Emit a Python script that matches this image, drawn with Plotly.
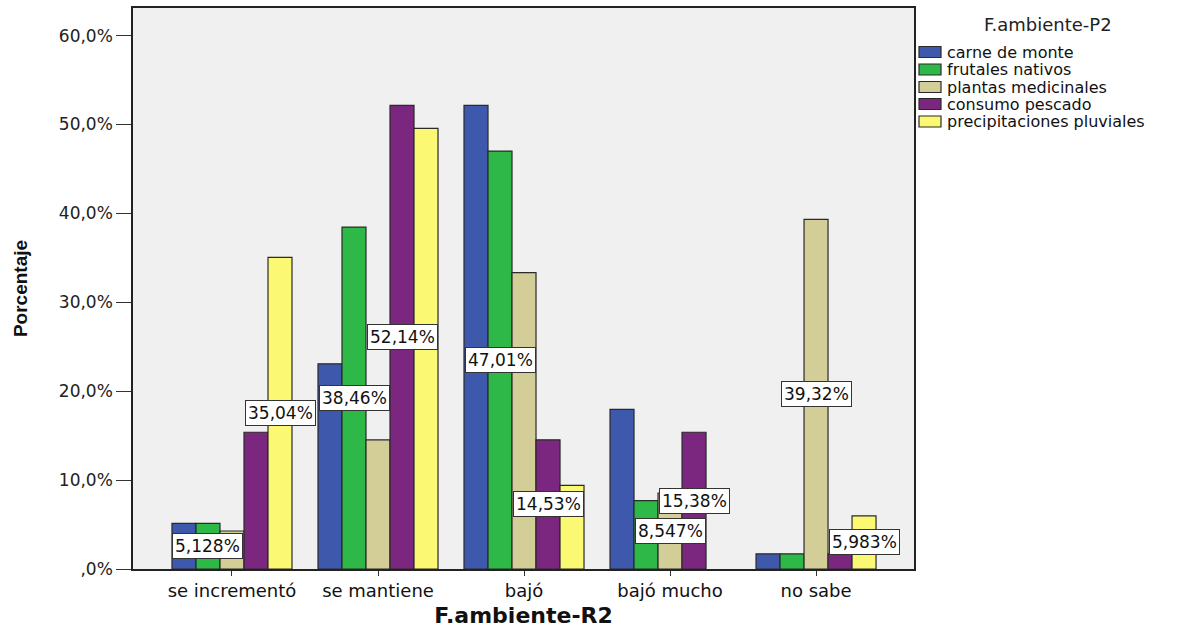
import plotly.graph_objects as go

# Categories on the horizontal axis (F.ambiente-R2)
categories = ["se incrementó", "se mantiene", "bajó", "bajó mucho", "no sabe"]

# Percentage of respondents per answer, one list per F.ambiente-P2 item
series_names = [
    "carne de monte",
    "frutales nativos",
    "plantas medicinales",
    "consumo pescado",
    "precipitaciones pluviales",
]
carne_de_monte = [5.128, 23.08, 52.14, 17.95, 1.709]
frutales_nativos = [5.128, 38.46, 47.01, 7.692, 1.709]
plantas_medicinales = [4.274, 14.53, 33.33, 8.547, 39.32]
consumo_pescado = [15.38, 52.14, 14.53, 15.38, 1.709]
precipitaciones_pluviales = [35.04, 49.57, 9.402, None, 5.983]
series_values = [
    carne_de_monte,
    frutales_nativos,
    plantas_medicinales,
    consumo_pescado,
    precipitaciones_pluviales,
]
series_colors = ["#3e58ac", "#2eb848", "#d3ce97", "#7b277f", "#fbf873"]

# Bars that carry a boxed value label: (category index, series index)
label_categories = [0, 0, 1, 1, 2, 2, 3, 3, 4, 4]
label_series = [1, 4, 1, 3, 1, 3, 3, 2, 2, 4]

# Y axis ticks
y_tick_values = [0, 10, 20, 30, 40, 50, 60]
y_tick_text = [",0%", "10,0%", "20,0%", "30,0%", "40,0%", "50,0%", "60,0%"]

W, H = 1190, 628
M_L, M_R, M_T, M_B = 133, 276, 8, 59
BARGAP = 0.178
FONT = "DejaVu Sans, Verdana, sans-serif"
EDGE = "#2a2a2a"


def px_x(px):
    """Pixel column -> paper x."""
    return (px - M_L) / (W - M_L - M_R)


def px_y(py):
    """Pixel row -> paper y."""
    return (H - M_B - py) / (H - M_T - M_B)


fig = go.Figure()
for name, vals, color in zip(series_names, series_values, series_colors):
    fig.add_trace(
        go.Bar(
            name=name,
            x=categories,
            y=vals,
            marker=dict(color=color, line=dict(color=EDGE, width=1.2)),
            hoverinfo="skip",
            showlegend=False,
        )
    )

# Boxed labels sit at mid-height of their bar, centred on it
n_series = len(series_names)
bar_w = (1 - BARGAP) / n_series
for ci, si in zip(label_categories, label_series):
    v = series_values[si][ci]
    txt = f"{v:.4g}".replace(".", ",") + "%"
    fig.add_annotation(
        x=ci + (si - (n_series - 1) / 2) * bar_w,
        y=v / 2,
        xref="x",
        yref="y",
        text=txt,
        showarrow=False,
        font=dict(family=FONT, size=17, color="#111111"),
        bgcolor="#ffffff",
        bordercolor="#333333",
        borderwidth=1,
        borderpad=2,
    )

# Legend block to the right of the plot: title, swatches and names
fig.add_annotation(
    x=px_x(1048), y=px_y(25), xref="paper", yref="paper",
    text="F.ambiente-P2", showarrow=False, xanchor="center", yanchor="middle",
    font=dict(family=FONT, size=18, color="#222222"),
)
item_rows = [52, 69.5, 87, 104, 121.5]
for name, color, row in zip(series_names, series_colors, item_rows):
    fig.add_shape(
        type="rect", xref="paper", yref="paper",
        x0=px_x(919), x1=px_x(941), y0=px_y(row + 5.5), y1=px_y(row - 5.5),
        fillcolor=color, line=dict(color=EDGE, width=1.2),
    )
    fig.add_annotation(
        x=px_x(945), y=px_y(row), xref="paper", yref="paper",
        text=name, showarrow=False, xanchor="left", yanchor="middle",
        font=dict(family=FONT, size=16, color="#111111"),
    )

fig.update_layout(
    width=W,
    height=H,
    margin=dict(l=M_L, r=M_R, t=M_T, b=M_B),
    paper_bgcolor="#ffffff",
    plot_bgcolor="#f0f0f0",
    barmode="group",
    bargap=BARGAP,
    bargroupgap=0,
    font=dict(family=FONT, size=14, color="#222222"),
    showlegend=False,
)

fig.update_xaxes(
    type="category",
    range=[-0.678, 4.671],
    automargin=False,
    showline=True,
    linecolor="#222222",
    linewidth=1.5,
    mirror=True,
    ticks="outside",
    ticklen=5,
    tickcolor="#333333",
    tickfont=dict(family=FONT, size=18, color="#111111"),
    showgrid=False,
    title=dict(
        text="<b>F.ambiente-R2</b>",
        font=dict(family=FONT, size=22, color="#111111"),
        standoff=12,
    ),
)
fig.update_yaxes(
    range=[0, 63.1],
    automargin=False,
    tickvals=y_tick_values,
    ticktext=y_tick_text,
    showline=True,
    linecolor="#222222",
    linewidth=1.5,
    mirror=True,
    ticks="outside",
    ticklen=15,
    tickcolor="#333333",
    tickfont=dict(family=FONT, size=17, color="#222222"),
    showgrid=False,
    zeroline=False,
    title=dict(
        text="<b>Porcentaje</b>",
        font=dict(family="Liberation Sans Narrow, Liberation Sans, Arial, sans-serif", size=19, color="#111111"),
        standoff=26,
    ),
)

fig.write_html("out.html")
